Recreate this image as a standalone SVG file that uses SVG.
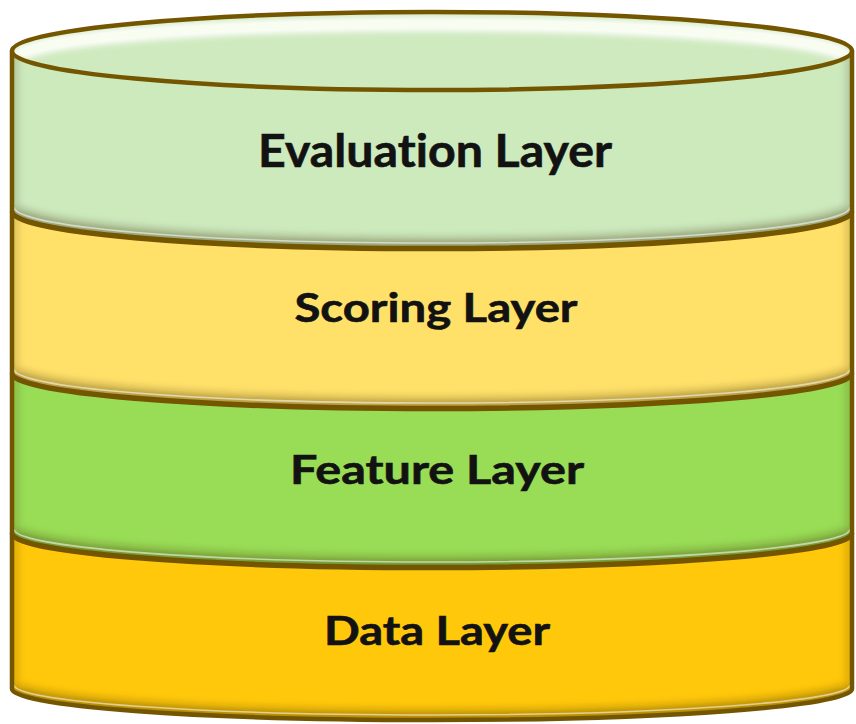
<svg xmlns="http://www.w3.org/2000/svg" width="856" height="724" viewBox="0 0 856 724">
  <style>
    .outline { stroke: #745600; stroke-width: 4.5; stroke-linejoin: round; }
    .shade { fill: none; stroke: #3a2a00; stroke-opacity: 0.38; stroke-width: 18; filter: url(#blur); }
    .side { fill: none; stroke: #3a2a00; stroke-opacity: 0.22; stroke-width: 10; filter: url(#blur); }
    .hl { fill: none; stroke: #ffffff; stroke-opacity: 0.55; stroke-width: 1.6; }
    .lbl { font-family: Lato, "Open Sans", "Liberation Sans", sans-serif; font-weight: 700; fill: #121212; text-anchor: middle; font-variant-ligatures: none; font-feature-settings: "liga" 0; stroke: #121212; stroke-width: 0.6; }
  </style>
  <defs>
    <filter id="blur" x="-5%" y="-50%" width="110%" height="200%">
      <feGaussianBlur stdDeviation="4"/>
    </filter>
    <filter id="blur2" x="-5%" y="-50%" width="110%" height="200%">
      <feGaussianBlur stdDeviation="3"/>
    </filter>
    <clipPath id="cEval"><path d="M12,51 A420,39 0 0 0 852,51 L852,211 A420,37 0 0 1 12,211 Z"/></clipPath>
    <clipPath id="cScore"><path d="M12,211 A420,37 0 0 0 852,211 L852,373 A420,35 0 0 1 12,373 Z"/></clipPath>
    <clipPath id="cFeat"><path d="M12,373 A420,35 0 0 0 852,373 L852,533 A420,34 0 0 1 12,533 Z"/></clipPath>
    <clipPath id="cData"><path d="M12,533 A420,34 0 0 0 852,533 L852,689 A420,31 0 0 1 12,689 Z"/></clipPath>
    <clipPath id="cTop"><ellipse cx="432" cy="51" rx="420" ry="39"/></clipPath>
  </defs>

  <g id="layer-evaluation">
    <path d="M12,51 A420,39 0 0 0 852,51 L852,211 A420,37 0 0 1 12,211 Z" fill="#cdeabd"/>
    <g clip-path="url(#cEval)">
      <path class="shade" d="M12,211 A420,37 0 0 0 852,211"/>
      <path class="side" d="M12,40 V230 M852,40 V230"/>
      <path class="hl" d="M14,207 A418,36 0 0 0 850,207"/>
    </g>
    <path class="outline" fill="none" d="M12,51 L12,211 A420,37 0 0 0 852,211 L852,51"/>
    <text class="lbl" x="435" y="167" font-size="46" textLength="354" lengthAdjust="spacingAndGlyphs">Evaluation Layer</text>
  </g>

  <g id="layer-scoring">
    <path d="M12,211 A420,37 0 0 0 852,211 L852,373 A420,35 0 0 1 12,373 Z" fill="#ffe169"/>
    <g clip-path="url(#cScore)">
      <path class="shade" d="M12,373 A420,35 0 0 0 852,373"/>
      <path class="side" d="M12,200 V400 M852,200 V400"/>
      <path class="hl" d="M14,369 A418,34 0 0 0 850,369"/>
    </g>
    <path class="outline" fill="none" d="M12,211 L12,373 A420,35 0 0 0 852,373 L852,211"/>
    <path class="outline" fill="none" stroke-width="7" d="M12,212 A420,37 0 0 0 852,212"/>
    <text class="lbl" x="436" y="322" font-size="40" textLength="283" lengthAdjust="spacingAndGlyphs">Scoring Layer</text>
  </g>

  <g id="layer-feature">
    <path d="M12,373 A420,35 0 0 0 852,373 L852,533 A420,34 0 0 1 12,533 Z" fill="#99dc55"/>
    <g clip-path="url(#cFeat)">
      <path class="shade" d="M12,533 A420,34 0 0 0 852,533"/>
      <path class="side" d="M12,360 V560 M852,360 V560"/>
      <path class="hl" d="M14,529 A418,33 0 0 0 850,529"/>
    </g>
    <path class="outline" fill="none" d="M12,373 L12,533 A420,34 0 0 0 852,533 L852,373"/>
    <path class="outline" fill="none" stroke-width="7" d="M12,374 A420,35 0 0 0 852,374"/>
    <text class="lbl" x="437" y="484" font-size="40" textLength="294" lengthAdjust="spacingAndGlyphs">Feature Layer</text>
  </g>

  <g id="layer-data">
    <path d="M12,533 A420,34 0 0 0 852,533 L852,689 A420,31 0 0 1 12,689 Z" fill="#ffc80a"/>
    <g clip-path="url(#cData)">
      <path class="shade" d="M12,689 A420,31 0 0 0 852,689"/>
      <path class="side" d="M12,520 V720 M852,520 V720"/>
      <path class="hl" d="M14,685 A418,30 0 0 0 850,685"/>
    </g>
    <path class="outline" fill="none" d="M12,533 L12,689 A420,31 0 0 0 852,689 L852,533"/>
    <path class="outline" fill="none" stroke-width="7" d="M12,534 A420,34 0 0 0 852,534"/>
    <text class="lbl" x="437" y="645" font-size="40" textLength="226" lengthAdjust="spacingAndGlyphs">Data Layer</text>
  </g>

  <g id="top-face">
    <ellipse cx="432" cy="51" rx="420" ry="39" fill="#cfeabf"/>
    <g clip-path="url(#cTop)">
      <path d="M18,58 A414,34 0 0 1 846,58" fill="none" stroke="#ffffff" stroke-width="14" filter="url(#blur2)"/>
      <path d="M18,58 A414,34 0 0 1 846,58" fill="none" stroke="#f8fdf0" stroke-width="6"/>
    </g>
    <ellipse class="outline" cx="432" cy="51" rx="420" ry="39" fill="none"/>
  </g>
</svg>
